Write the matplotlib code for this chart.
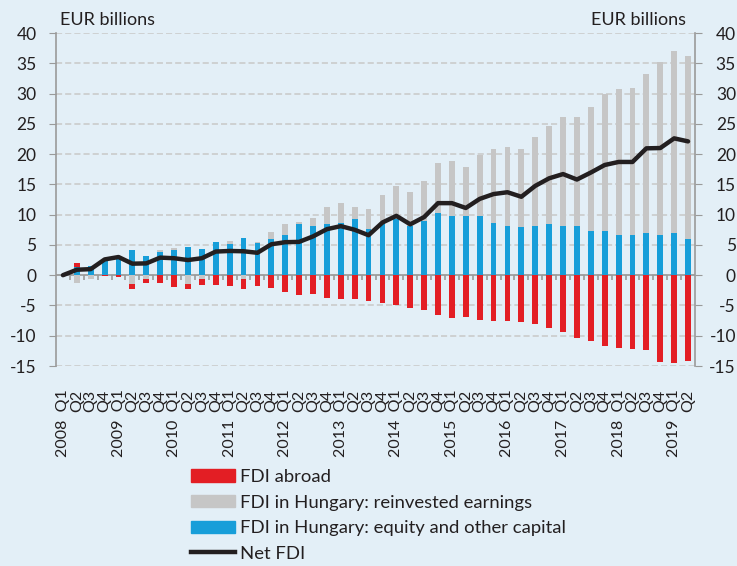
import matplotlib.pyplot as plt
import matplotlib.transforms as mtrans
import numpy as np
from matplotlib.patches import Patch
from matplotlib.lines import Line2D

plt.rcParams['font.family'] = ['Lato', 'DejaVu Sans']
plt.rcParams['axes.unicode_minus'] = False

# quarterly data, 2008 Q1 .. 2019 Q2 (EUR billions)
equity = [0.0, 1.4, 1.5, 2.6, 3.0, 4.1, 3.25, 3.9, 4.1, 4.6, 4.35, 5.5, 5.1, 6.2, 5.3, 5.9,
          6.7, 8.4, 8.1, 8.4, 8.7, 9.2, 7.65, 8.55, 9.3, 8.2, 8.9, 10.25, 9.7, 9.85, 9.85, 8.55,
          8.1, 8.0, 8.2, 8.4, 8.2, 8.05, 7.25, 7.3, 6.7, 6.7, 6.95, 6.7, 6.95, 5.9]
reinvested = [0.0, -1.3, -0.6, 0.0, 0.0, -1.4, -0.6, 0.2, 0.4, -1.4, -0.55, 0.0, 0.6, -0.7, 0.2, 1.3,
              1.7, 0.35, 1.4, 2.9, 3.3, 2.1, 3.2, 4.75, 5.35, 5.6, 6.6, 8.2, 9.2, 8.1, 9.95, 12.25,
              13.15, 12.8, 14.6, 16.3, 17.85, 18.15, 20.45, 22.6, 24.0, 24.15, 26.35, 28.55, 30.05, 30.25]
abroad = [0.0, 0.65, 0.0, -0.15, -0.3, -0.8, -0.7, -1.3, -1.9, -0.8, -1.0, -1.6, -1.75, -1.55, -1.8, -2.15,
          -2.75, -3.2, -3.1, -3.75, -3.9, -3.9, -4.2, -4.6, -4.95, -5.45, -5.8, -6.6, -7.05, -6.9, -7.35, -7.5,
          -7.65, -7.8, -8.1, -8.8, -9.35, -10.35, -10.8, -11.7, -12.0, -12.2, -12.4, -14.3, -14.5, -14.1]
net_fdi = [0.0, 0.9, 1.0, 2.6, 3.0, 1.9, 1.95, 2.9, 2.8, 2.5, 2.8, 3.9, 4.0, 3.95, 3.7, 5.1,
           5.45, 5.5, 6.4, 7.6, 8.1, 7.5, 6.6, 8.7, 9.8, 8.4, 9.6, 11.9, 11.9, 11.1, 12.6, 13.4,
           13.7, 12.95, 14.75, 16.0, 16.7, 15.8, 16.95, 18.2, 18.7, 18.7, 20.95, 21.0, 22.6, 22.1]

labels = []
for i in range(len(net_fdi)):
    q = i % 4 + 1
    labels.append('%d  Q1' % (2008 + i // 4) if q == 1 else 'Q%d' % q)

bg = '#e3eff7'
c_red, c_grey, c_blue = '#e31e24', '#c6c6c6', '#179ed9'
c_axis = '#9a9a9a'
c_txt = '#231f20'

fig = plt.figure(figsize=(7.37, 5.66), dpi=100, facecolor=bg)
ax = fig.add_axes([56/737, 1-366/566, (695-56)/737, (366-33)/566], facecolor=bg)

x = np.arange(len(net_fdi))
pos = np.zeros(len(x))
neg = np.zeros(len(x))
# stack like Excel: positives upward, negatives downward, in series order
for vals, col in [(equity, c_blue), (reinvested, c_grey), (abroad, c_red)]:
    v = np.array(vals)
    base = np.where(v >= 0, pos, neg)
    ax.bar(x, v, 0.42, bottom=base, color=col, zorder=3)
    pos = pos + np.clip(v, 0, None)
    neg = neg + np.clip(v, None, 0)

ax.plot(x, net_fdi, color=c_txt, lw=3.2, zorder=5, solid_capstyle='round', solid_joinstyle='round')

ax.set_xlim(-0.5, len(x) - 0.5)
ax.set_ylim(-15, 40)
ax.set_yticks(range(-15, 41, 5))
ax.grid(axis='y', color='#c8c8c8', ls=(0, (4, 2)), lw=1.1, zorder=0)
ax.axhline(0, color=c_axis, lw=1.2, zorder=2)
ax.vlines(x[:-1] + 0.5, -0.8, 0, color=c_axis, lw=1.2, zorder=2)

for s in ['top', 'bottom']:
    ax.spines[s].set_visible(False)
for s in ['left', 'right']:
    ax.spines[s].set_color(c_axis)
    ax.spines[s].set_linewidth(1.2)

ax.tick_params(axis='y', left=True, right=True, labelleft=True, labelright=True,
               direction='out', length=5, color=c_axis, labelsize=12.5, labelcolor=c_txt, pad=9)
# right-hand labels are right-aligned against the figure edge
right_tr = mtrans.blended_transform_factory(fig.transFigure, ax.transData)
for t in ax.yaxis.get_major_ticks():
    t.label2.set_horizontalalignment('right')
    t.label2.set_transform(right_tr)
    t.label2.set_x(736/737)

ax.set_xticks(x)
ax.set_xticklabels(labels, rotation=90, ha='center', va='top', fontsize=11.5, color=c_txt)
ax.tick_params(axis='x', length=0, pad=17)

fig.text(60/737, 1-20/566, 'EUR billions', fontsize=13, color=c_txt, va='center', ha='left')
fig.text(686/737, 1-20/566, 'EUR billions', fontsize=13, color=c_txt, va='center', ha='right')

handles = [Patch(color=c_red), Patch(color=c_grey), Patch(color=c_blue),
           Line2D([], [], color=c_txt, lw=3.2)]
names = ['FDI abroad', 'FDI in Hungary: reinvested earnings',
         'FDI in Hungary: equity and other capital', 'Net FDI']
fig.legend(handles, names, loc='upper left', bbox_to_anchor=(191/737, 1-469/566), frameon=False,
           fontsize=13.3, handlelength=2.38, handleheight=0.65, handletextpad=0.27,
           labelspacing=0.52, labelcolor=c_txt, borderaxespad=0, borderpad=0)

fig.savefig('out.png', dpi=100, facecolor=bg)
